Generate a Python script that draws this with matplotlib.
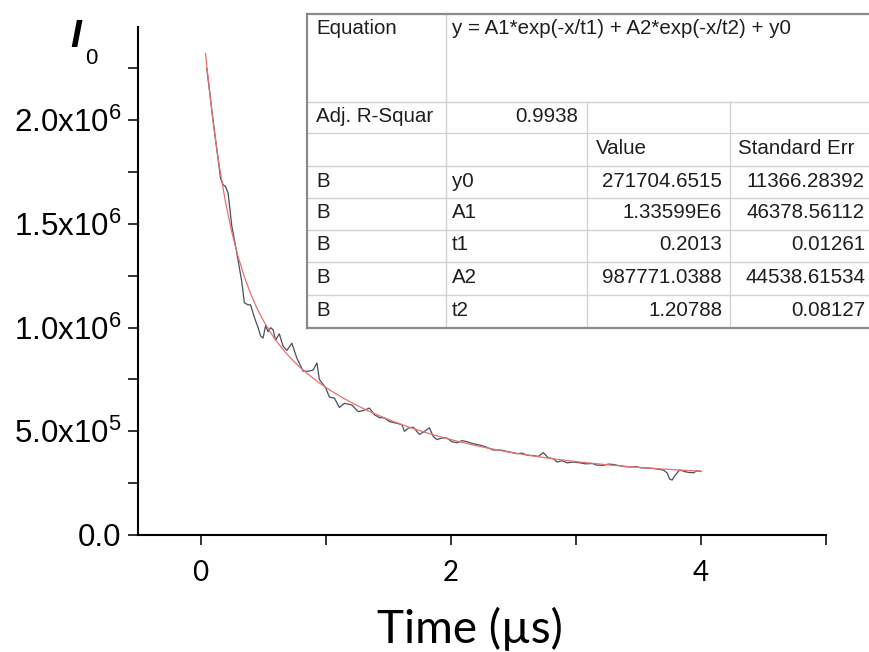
import numpy as np
import matplotlib.pyplot as plt
from matplotlib.ticker import FixedLocator, MultipleLocator

plt.rcParams['font.family'] = ['Liberation Sans', 'DejaVu Sans']
plt.rcParams['mathtext.fontset'] = 'custom'
plt.rcParams['mathtext.rm'] = 'Liberation Sans'
plt.rcParams['mathtext.it'] = 'Liberation Sans:italic'

# measured decay (time in us, intensity in units of 1e6)
t_data = [0.05, 0.08, 0.10, 0.13, 0.16, 0.18, 0.20, 0.22, 0.25, 0.29,
          0.33, 0.35, 0.38, 0.40, 0.43, 0.46, 0.48, 0.50, 0.52, 0.54,
          0.56, 0.58, 0.60, 0.63, 0.66, 0.69, 0.73, 0.77, 0.82, 0.86,
          0.90, 0.93, 0.95, 1.00, 1.03, 1.07, 1.11, 1.15, 1.21, 1.26,
          1.30, 1.35, 1.39, 1.43, 1.47, 1.51, 1.56, 1.61, 1.63, 1.66,
          1.70, 1.75, 1.79, 1.83, 1.86, 1.89, 1.93, 1.97, 2.01, 2.05,
          2.09, 2.13, 2.18, 2.23, 2.28, 2.34, 2.40, 2.47, 2.53, 2.57,
          2.61, 2.66, 2.70, 2.74, 2.78, 2.82, 2.85, 2.89, 2.93, 2.98,
          3.03, 3.08, 3.13, 3.17, 3.22, 3.26, 3.30, 3.35, 3.39, 3.43,
          3.48, 3.52, 3.57, 3.62, 3.66, 3.70, 3.73, 3.75, 3.77, 3.79,
          3.83, 3.87, 3.90, 3.94, 3.97, 4.00]
i_data = [2.25, 2.10, 2.00, 1.86, 1.72, 1.69, 1.68, 1.65, 1.49, 1.36,
          1.22, 1.12, 1.11, 1.11, 1.05, 1.00, 0.96, 0.95, 1.01, 0.98,
          1.00, 0.99, 0.94, 0.97, 0.91, 0.89, 0.925, 0.853, 0.79, 0.79,
          0.795, 0.83, 0.75, 0.71, 0.665, 0.66, 0.615, 0.635, 0.627, 0.595,
          0.600, 0.612, 0.58, 0.566, 0.565, 0.547, 0.540, 0.532, 0.500, 0.515,
          0.520, 0.485, 0.500, 0.517, 0.475, 0.460, 0.468, 0.467, 0.450, 0.445,
          0.455, 0.450, 0.440, 0.434, 0.425, 0.410, 0.410, 0.400, 0.392, 0.395,
          0.385, 0.383, 0.379, 0.397, 0.372, 0.368, 0.352, 0.358, 0.348, 0.352,
          0.348, 0.343, 0.345, 0.337, 0.336, 0.342, 0.340, 0.334, 0.330, 0.328,
          0.330, 0.324, 0.323, 0.321, 0.317, 0.313, 0.300, 0.270, 0.265, 0.285,
          0.314, 0.306, 0.302, 0.300, 0.310, 0.306]

# fitted curve (red)
t_fit = [0.04] + list(np.round(np.arange(0.05, 4.001, 0.05), 2))
i_fit = [2.3226, 2.2616, 1.9939, 1.7783, 1.6034, 1.4607, 1.3432, 1.2458, 1.1642, 1.0951,
         1.0361, 0.9851, 0.9406, 0.9013, 0.8663, 0.8348, 0.8062, 0.7800, 0.7559, 0.7335,
         0.7126, 0.6931, 0.6747, 0.6573, 0.6409, 0.6252, 0.6105, 0.5958, 0.5830, 0.5701,
         0.5578, 0.5458, 0.5347, 0.5239, 0.5136, 0.5038, 0.4944, 0.4853, 0.4767, 0.4684,
         0.4604, 0.4528, 0.4454, 0.4384, 0.4316, 0.4251, 0.4189, 0.4129, 0.4072, 0.4017,
         0.3964, 0.3914, 0.3866, 0.3819, 0.3775, 0.3732, 0.3691, 0.3651, 0.3614, 0.3577,
         0.3542, 0.3508, 0.3476, 0.3446, 0.3416, 0.3388, 0.3361, 0.3335, 0.3310, 0.3286,
         0.3263, 0.3241, 0.3220, 0.3199, 0.3180, 0.3161, 0.3143, 0.3126, 0.3110, 0.3094,
         0.3078]

y_ticks = [0, 0.5e6, 1.0e6, 1.5e6, 2.0e6]
y_ticklabels = ['0.0', r'5.0x10$^{5}$', r'1.0x10$^{6}$', r'1.5x10$^{6}$', r'2.0x10$^{6}$']
x_ticks = [0, 2, 4]

# fit report table
eq_label = 'Equation'
eq_text = 'y = A1*exp(-x/t1) + A2*exp(-x/t2) + y0'
adj_label = 'Adj. R-Squar'
adj_value = '0.9938'
col_heads = ['Value', 'Standard Err']
par_names = ['y0', 'A1', 't1', 'A2', 't2']
par_values = ['271704.6515', '1.33599E6', '0.2013', '987771.0388', '1.20788']
par_errors = ['11366.28392', '46378.56112', '0.01261', '44538.61534', '0.08127']

W, H = 869, 652
fig = plt.figure(figsize=(W / 100, H / 100), dpi=100)


def fx(px):
    return px / W


def fy(py):
    return 1 - py / H


ax = fig.add_axes([fx(138), fy(535), fx(826) - fx(138), fy(27) - fy(535)])
ax.plot(t_data, np.array(i_data) * 1e6, color='#4a4f5c', lw=0.9)
ax.plot(t_fit, np.array(i_fit) * 1e6, color='#e8706e', lw=0.9)

ax.set_xlim(-0.5, 5.0)
ax.set_ylim(0, 2.45e6)
ax.spines['top'].set_visible(False)
ax.spines['right'].set_visible(False)
for s in ['left', 'bottom']:
    ax.spines[s].set_linewidth(1.5)

ax.set_yticks(y_ticks)
ax.set_yticklabels(y_ticklabels, fontsize=22.5)
ax.yaxis.set_minor_locator(FixedLocator([0.25e6, 0.75e6, 1.25e6, 1.75e6, 2.25e6]))
ax.set_xticks(x_ticks)
ax.set_xticklabels([str(v) for v in x_ticks], fontsize=20, family='Lato')
ax.xaxis.set_minor_locator(MultipleLocator(1))
ax.tick_params(which='both', direction='out', length=7.2, width=1.3, color='#222222')
ax.tick_params(axis='y', pad=5)
ax.tick_params(axis='x', pad=11)
ax.set_xlabel('Time (\u00b5s)', fontsize=33, family='Lato')
ax.xaxis.label.set_verticalalignment('baseline')
ax.xaxis.set_label_coords((470 - 138) / 688, (535 - 643) / 508)

# y axis title: I with subscript 0
fig.text(fx(70), fy(37), 'I', fontsize=28, fontstyle='italic', fontweight='bold',
         ha='left', va='center')
fig.text(fx(85), fy(58), '0', fontsize=16, ha='left', va='center')

# table
cols = [307, 446, 587, 730, 873]
rows = [14, 102, 133, 166, 198, 230, 262, 295, 328]
inner = '#d2d2d2'
outer = '#8a8a8a'
tcolor = '#1e1e1e'
tsize = 14.8

fig.patches.append(plt.Rectangle((fx(cols[0]), fy(rows[-1])), fx(cols[-1]) - fx(cols[0]),
                                 fy(rows[0]) - fy(rows[-1]), transform=fig.transFigure,
                                 facecolor='white', edgecolor='none', zorder=3))


def hline(py, x0, x1, c, lw):
    fig.add_artist(plt.Line2D([fx(x0), fx(x1)], [fy(py), fy(py)], color=c, lw=lw, zorder=4))


def vline(px, y0, y1, c, lw):
    fig.add_artist(plt.Line2D([fx(px), fx(px)], [fy(y0), fy(y1)], color=c, lw=lw, zorder=4))


for r in rows[1:-1]:
    hline(r, cols[0], cols[-1], inner, 1.0)
vline(cols[1], rows[0], rows[-1], inner, 1.0)
for c in cols[2:4]:
    vline(c, rows[1], rows[-1], inner, 1.0)
hline(rows[0], cols[0], cols[-1], outer, 1.6)
hline(rows[-1], cols[0], cols[-1], outer, 1.6)
vline(cols[0], rows[0], rows[-1], outer, 1.6)


def cell(px, py, s, ha='left'):
    fig.text(fx(px), fy(py), s, fontsize=tsize, color=tcolor, ha=ha, va='center', zorder=5)


cell(cols[0] + 9, 28, eq_label)
cell(cols[1] + 6, 28, eq_text)
ymid = [(rows[i] + rows[i + 1]) / 2 - 1 for i in range(1, len(rows) - 1)]
cell(cols[0] + 9, ymid[0], adj_label)
cell(cols[2] - 9, ymid[0], adj_value, ha='right')
cell(cols[2] + 9, ymid[1], col_heads[0])
cell(cols[3] + 8, ymid[1], col_heads[1])
for k in range(len(par_names)):
    yy = ymid[2 + k]
    cell(cols[0] + 9, yy, 'B')
    cell(cols[1] + 6, yy, par_names[k])
    cell(cols[3] - 8, yy, par_values[k], ha='right')
    cell(cols[4] - 8, yy, par_errors[k], ha='right')

fig.savefig('out.png', dpi=100)
